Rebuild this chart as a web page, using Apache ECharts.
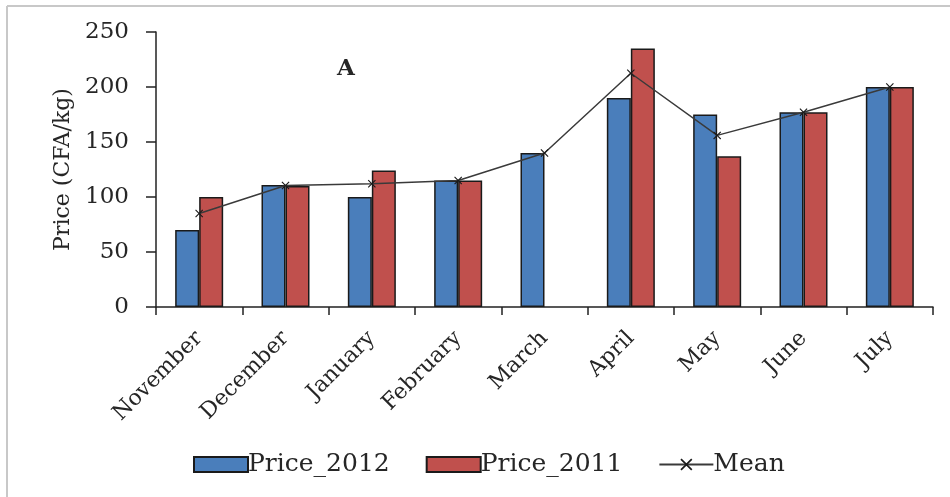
<!DOCTYPE html>
<html>
<head>
<meta charset="utf-8">
<script src="https://cdn.jsdelivr.net/npm/echarts@6/dist/echarts.min.js"></script>
<style>
  html, body { margin: 0; padding: 0; background: #ffffff; }
  #chart { width: 950px; height: 497px; }
</style>
</head>
<body>
<div id="chart"></div>
<script>
// Monthly prices (CFA/kg) for the two seasons and their mean
const months = ['November', 'December', 'January', 'February', 'March', 'April', 'May', 'June', 'July'];
const price2012 = [70, 111, 100, 115, 140, 190, 175, 177, 200];
const price2011 = [100, 110, 124, 115, null, 235, 137, 177, 200];
const meanPrice = [85, 110.5, 112, 115, 140, 212.5, 156, 177, 200];
const yTicks = { min: 0, max: 250, interval: 50 };

const FONT = 'DejaVu Serif';
const INK = '#262626';
// small "x" cross used as the mean marker
const crossPath = 'path://M0,1L1,0L5,4L9,0L10,1L6,5L10,9L9,10L5,6L1,10L0,9L4,5Z';

const chart = echarts.init(document.getElementById('chart'), null, { renderer: 'canvas' });

chart.setOption({
  animation: false,
  backgroundColor: '#ffffff',
  textStyle: { fontFamily: FONT, color: INK },
  grid: { left: 156, right: 17, top: 32, bottom: 190, containLabel: false },
  graphic: [
    { type: 'line', shape: { x1: 7, y1: 6, x2: 950, y2: 6 }, style: { stroke: '#c8c8c8', lineWidth: 2 } },
    { type: 'line', shape: { x1: 7, y1: 6, x2: 7, y2: 497 }, style: { stroke: '#c8c8c8', lineWidth: 2 } },
    { type: 'text', left: 337, top: 58,
      style: { text: 'A', font: 'bold 23px "DejaVu Serif"', fill: INK } }
  ],
  legend: {
    left: 188,
    top: 447,
    itemWidth: 54,
    itemHeight: 15,
    itemGap: 36,
    textStyle: { fontFamily: FONT, fontSize: 25, color: INK, padding: [0, 0, 0, -5] },
    data: [
      { name: 'Price_2012', icon: 'rect' },
      { name: 'Price_2011', icon: 'rect' },
      { name: 'Mean' }
    ]
  },
  xAxis: {
    type: 'category',
    data: months,
    axisLine: { lineStyle: { color: '#222', width: 1.5 } },
    axisTick: { show: true, length: 8, alignWithLabel: false, lineStyle: { color: '#222', width: 1.5 } },
    axisLabel: {
      rotate: 45,
      margin: 28,
      interval: 0,
      fontFamily: FONT,
      fontSize: 22,
      color: INK
    },
    splitLine: { show: false }
  },
  yAxis: {
    type: 'value',
    min: yTicks.min,
    max: yTicks.max,
    interval: yTicks.interval,
    name: 'Price (CFA/kg)',
    nameLocation: 'middle',
    nameGap: 82,
    nameTextStyle: { fontFamily: FONT, fontSize: 22, color: INK },
    axisLine: { show: true, lineStyle: { color: '#222', width: 1.5 } },
    axisTick: { show: true, length: 10, lineStyle: { color: '#222', width: 1.5 } },
    axisLabel: { margin: 27, fontFamily: FONT, fontSize: 23, color: INK },
    splitLine: { show: false }
  },
  series: [
    {
      name: 'Price_2012',
      type: 'bar',
      data: price2012,
      barWidth: 24,
      barGap: '0%',
      itemStyle: { color: '#4a7ebb', borderColor: '#1a1a1a', borderWidth: 1.5 }
    },
    {
      name: 'Price_2011',
      type: 'bar',
      data: price2011,
      barWidth: 24,
      barGap: '0%',
      itemStyle: { color: '#c0504d', borderColor: '#1a1a1a', borderWidth: 1.5 }
    },
    {
      name: 'Mean',
      type: 'line',
      data: meanPrice,
      symbol: crossPath,
      symbolSize: 8,
      showAllSymbol: true,
      lineStyle: { color: '#3a3a3a', width: 1.5 },
      itemStyle: { color: '#1a1a1a' },
      z: 5
    }
  ]
});
</script>
</body>
</html>
